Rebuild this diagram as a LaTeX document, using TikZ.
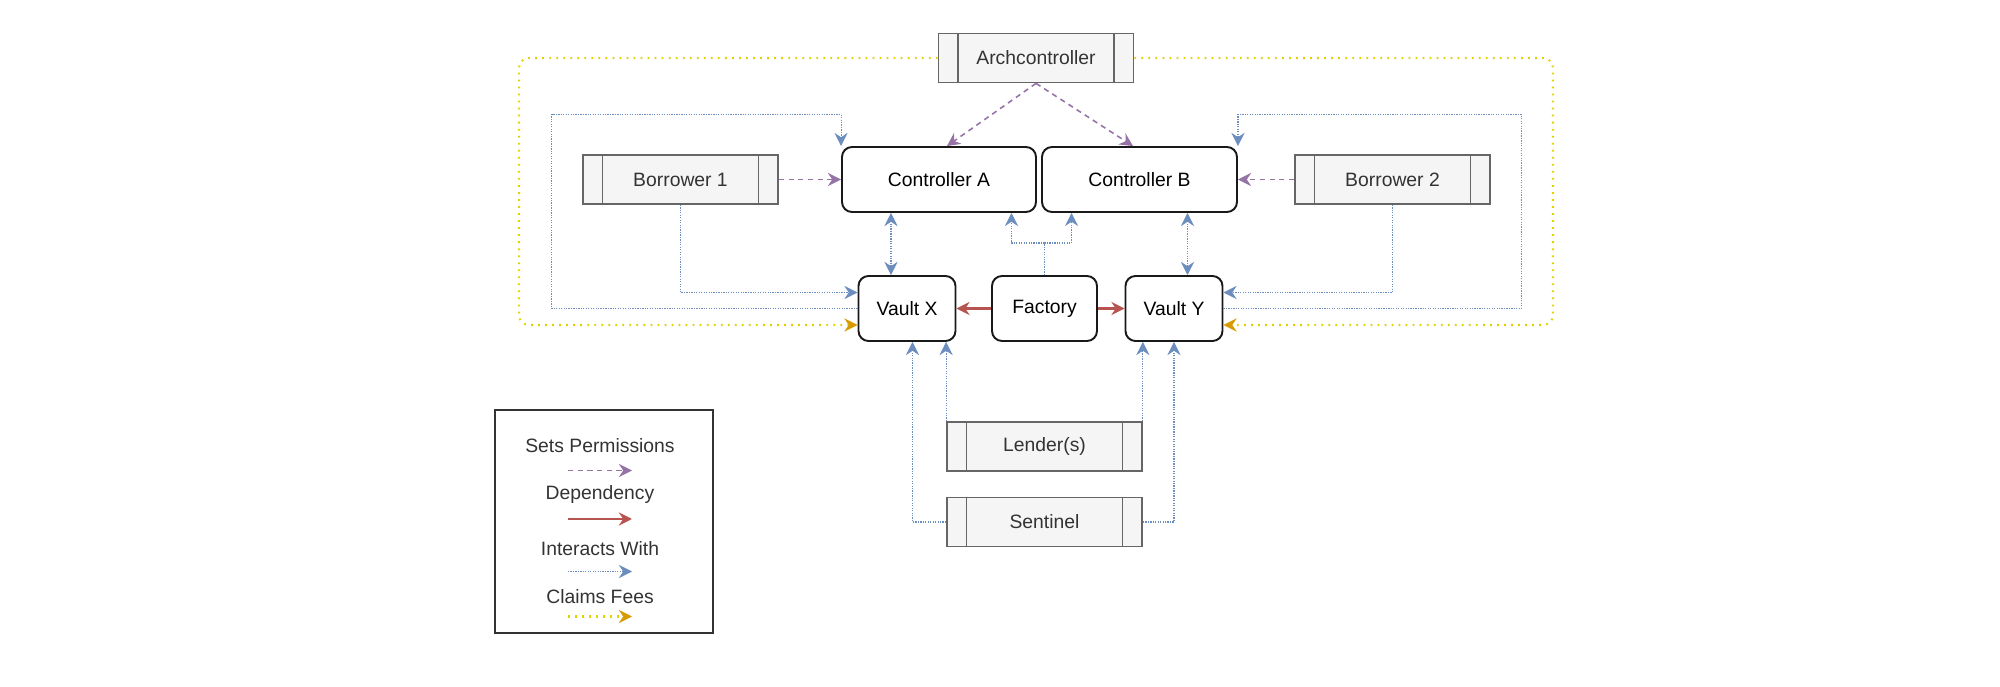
\documentclass[tikz,border=0pt]{standalone}
\usepackage{fontspec}
\setmainfont{Liberation Sans}
\usepackage{tikz}
\usetikzlibrary{positioning}
\usetikzlibrary{arrows.meta}

\definecolor{permcol}{HTML}{9673A6}
\definecolor{depcol}{HTML}{B85450}
\definecolor{intcol}{HTML}{6C8EBF}
\definecolor{feeline}{HTML}{E2D200}
\definecolor{feehead}{HTML}{D79B00}
\definecolor{procfill}{HTML}{F5F5F5}
\definecolor{procline}{HTML}{666666}
\definecolor{textcol}{HTML}{333333}

\tikzset{
  procbox/.style={draw=procline, fill=procfill, line width=1pt, minimum width=3.9cm, minimum height=0.98cm, text=textcol,
    path picture={\draw[procline, line width=1pt]
      ([xshift=0.39cm]path picture bounding box.south west) -- ([xshift=0.39cm]path picture bounding box.north west)
      ([xshift=-0.39cm]path picture bounding box.south east) -- ([xshift=-0.39cm]path picture bounding box.north east);}},
  roundbox/.style={draw=black!90, line width=1.1pt, rounded corners=0.2cm, minimum height=1.3cm},
  perm/.style={->, permcol, line width=0.9pt, dash pattern=on 3pt off 2.5pt},
  dep/.style={->, depcol, line width=1.2pt},
  interact/.style={->, intcol, line width=0.6pt, dash pattern=on 0.7pt off 0.7pt},
  fees/.style={-{Stealth[length=7.5pt,width=7.5pt,inset=2.5pt,color=feehead]}, feeline, line width=1.2pt,
    dash pattern=on 1pt off 3pt, rounded corners=0.2cm},
  lbl/.style={text=textcol}
}

\begin{document}
\begin{tikzpicture}[>={Stealth[length=7.5pt,width=7.5pt,inset=2.5pt]}, font=\fontsize{11}{13}\selectfont]
        \useasboundingbox (0,0) rectangle (40,13.74);

        % Actores
        \node[procbox] (arch) at (20.72,12.58) {Archcontroller};
        \node[procbox] (bor1) at (13.61,10.15) {Borrower 1};
        \node[procbox] (bor2) at (27.85,10.15) {Borrower 2};
        \node[procbox] (lender) at (20.89,4.81) {Lender(s)};
        \node[procbox] (sentinel) at (20.89,3.30) {Sentinel};

        % Contratos
        \node[roundbox, minimum width=3.88cm] (ctrlA) at (18.78,10.15) {Controller A};
        \node[roundbox, minimum width=3.9cm] (ctrlB) at (22.79,10.15) {Controller B};
        \node[roundbox, minimum width=1.94cm] (vaultX) at (18.14,7.57) {Vault X};
        \node[roundbox, minimum width=2.1cm] (factory) at (20.89,7.57) {Factory};
        \node[roundbox, minimum width=1.94cm] (vaultY) at (23.48,7.57) {Vault Y};

        % Permisos
        \draw[perm] (arch.south) -- ([xshift=0.16cm]ctrlA.north);
        \draw[perm] (arch.south) -- ([xshift=-0.13cm]ctrlB.north);
        \draw[perm] (bor1.east) -- (ctrlA.west);
        \draw[perm] (bor2.west) -- (ctrlB.east);

        % Dependencias
        \draw[dep] (factory.west) -- (vaultX.east);
        \draw[dep] (factory.east) -- (vaultY.west);

        % Interacciones
        \coordinate (outerL) at (11.03,11.45);
        \coordinate (outerR) at (30.43,11.45);
        \draw[interact] (vaultX.west) -| (outerL) -| (ctrlA.north west);
        \draw[interact] (vaultY.east) -| (outerR) -| (ctrlB.north east);
        \draw[interact] (bor1.south) |- ([yshift=0.32cm]vaultX.west);
        \draw[interact] (bor2.south) |- ([yshift=0.32cm]vaultY.east);
        \coordinate (vxTop) at ([xshift=-0.32cm]vaultX.north);
        \coordinate (vyTop) at ([xshift=0.27cm]vaultY.north);
        \draw[interact, <->] (vxTop) -- (vxTop |- ctrlA.south);
        \draw[interact, <->] (vyTop) -- (vyTop |- ctrlB.south);
        \coordinate (facA) at ([xshift=-0.51cm]ctrlA.south east);
        \coordinate (facB) at ([xshift=0.61cm]ctrlB.south west);
        \draw[interact] (factory.north) -- ++(0,0.64) -| (facA);
        \draw[interact] (factory.north) -- ++(0,0.64) -| (facB);
        \draw[interact] (lender.north west) -- (lender.north west |- vaultX.south);
        \draw[interact] (lender.north east) -- (lender.north east |- vaultY.south);
        \coordinate (vxBot) at ([xshift=0.11cm]vaultX.south);
        \draw[interact] (sentinel.west) -| (vxBot);
        \draw[interact] (sentinel.east) -| (vaultY.south);

        % Comisiones
        \coordinate (feeL) at (10.38,7.24);
        \coordinate (feeR) at (31.06,7.24);
        \draw[fees] (arch.west) -| (feeL) -- ([yshift=-0.33cm]vaultX.west);
        \draw[fees] (arch.east) -| (feeR) -- ([yshift=-0.33cm]vaultY.east);

        % Leyenda
        \node[draw=textcol, line width=1.1pt, minimum width=4.37cm, minimum height=4.45cm] (legend) at (12.08,3.31) {};
        \foreach \txt/\sty/\ty/\ay [count=\i] in {Sets Permissions/perm/4.82/4.33, Dependency/dep/3.84/3.36,
            Interacts With/interact/2.77/2.31, Claims Fees/fees/1.81/1.41} {
            \node[lbl] (leg\i) at (12.0,\ty) {\txt};
            \coordinate (legS\i) at (11.36,\ay);
            \coordinate (legE\i) at (12.64,\ay);
            \draw[\sty] (legS\i) -- (legE\i);
        }

    \end{tikzpicture}
\end{document}
